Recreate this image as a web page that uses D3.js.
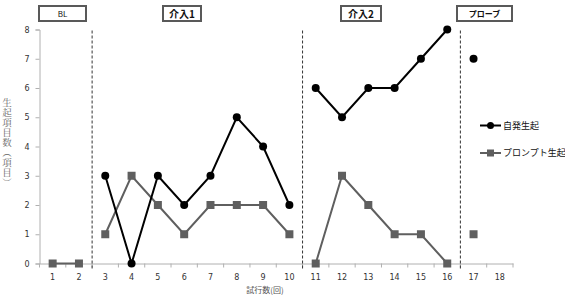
<!DOCTYPE html>
<html>
<head>
<meta charset="utf-8">
<script src="https://cdn.jsdelivr.net/npm/d3@7"></script>
<style>
  body { margin: 0; background: #fff; }
  svg { display: block; font-family: "Noto Sans CJK JP", "DejaVu Sans", sans-serif; }
</style>
</head>
<body>
<div id="chart"></div>
<script>
// data
const sessions = d3.range(1, 19);
const spontaneous = [null, null, 3, 0, 3, 2, 3, 5, 4, 2, 6, 5, 6, 6, 7, 8, 7, null];
const prompted = [0, 0, 1, 3, 2, 1, 2, 2, 2, 1, 0, 3, 2, 1, 1, 0, 1, null];
const phaseNames = ['BL', '介入1', '介入2', 'プローブ'];
const phaseStarts = [1, 3, 11, 17];
const phaseEnds = [2, 10, 16, 18];
const yTicks = d3.range(0, 9);
const legendNames = ['自発生起', 'プロンプト生起'];
const yTitle = '生起項目数（項目）';
const xTitle = '試行数(回)';

const width = 565, height = 297;
const margin = {top: 29.5, right: 52, bottom: 33.5, left: 39.5};

const svg = d3.select('#chart').append('svg')
  .attr('width', width)
  .attr('height', height);

const x = d3.scaleBand()
  .domain(sessions)
  .range([margin.left, width - margin.right]);
const y = d3.scaleLinear()
  .domain([0, 8])
  .range([height - margin.bottom, margin.top]);
const cx = d => x(d) + x.bandwidth() / 2;

// y axis
const yAxis = svg.append('g')
  .attr('transform', `translate(${margin.left},0)`)
  .call(d3.axisLeft(y).tickValues(yTicks).tickSize(4).tickPadding(6));
yAxis.select('.domain').attr('stroke', '#b0b0b0');
yAxis.selectAll('.tick line').attr('stroke', '#b0b0b0');
yAxis.selectAll('.tick text').attr('font-size', 8).attr('fill', '#333').attr('font-family', 'DejaVu Sans, sans-serif');

// x axis
const xAxis = svg.append('g')
  .attr('transform', `translate(0,${y(0)})`)
  .call(d3.axisBottom(x).tickSize(0).tickPadding(11));
xAxis.select('.domain').attr('stroke', '#b0b0b0');
xAxis.selectAll('.tick text').attr('font-size', 8).attr('fill', '#333').attr('font-family', 'DejaVu Sans, sans-serif');
// ticks between categories
svg.append('g').selectAll('line')
  .data(d3.range(0, sessions.length + 1))
  .join('line')
  .attr('x1', i => margin.left + i * x.step())
  .attr('x2', i => margin.left + i * x.step())
  .attr('y1', y(0))
  .attr('y2', y(0) + 4)
  .attr('stroke', '#b0b0b0');

// phase change lines
svg.append('g').selectAll('line')
  .data(phaseEnds.slice(0, 3))
  .join('line')
  .attr('x1', d => x(d) + x.bandwidth())
  .attr('x2', d => x(d) + x.bandwidth())
  .attr('y1', y(8) + 1)
  .attr('y2', y(0) + 6)
  .attr('stroke', '#333')
  .attr('stroke-width', 1)
  .attr('stroke-dasharray', '3,2');

// phase labels
const boxes = [
  {x0: 39, x1: 86, bold: false, size: 8},
  {x0: 163, x1: 201, bold: true, size: 10},
  {x0: 341, x1: 381, bold: true, size: 10},
  {x0: 457, x1: 512, bold: true, size: 8}
];
const lab = svg.append('g').selectAll('g')
  .data(phaseNames)
  .join('g');
lab.append('rect')
  .attr('x', (d, i) => boxes[i].x0)
  .attr('y', 6)
  .attr('width', (d, i) => boxes[i].x1 - boxes[i].x0)
  .attr('height', 15)
  .attr('fill', '#fff')
  .attr('stroke', '#595959')
  .attr('stroke-width', 2);
lab.append('text')
  .attr('x', (d, i) => (boxes[i].x0 + boxes[i].x1) / 2)
  .attr('y', 14)
  .attr('dy', '0.35em')
  .attr('text-anchor', 'middle')
  .attr('font-size', (d, i) => boxes[i].size)
  .attr('font-weight', (d, i) => boxes[i].bold ? 'bold' : 'normal')
  .attr('fill', '#111')
  .text(d => d);

// series lines by phase
const line = d3.line()
  .defined(d => d.v != null)
  .x(d => cx(d.s))
  .y(d => y(d.v));

function drawSeries(values, color, shape) {
  const pts = sessions.map((s, i) => ({s: s, v: values[i]}));
  const g = svg.append('g');
  phaseStarts.forEach((st, p) => {
    const seg = pts.filter(d => d.s >= st && d.s <= phaseEnds[p]);
    g.append('path')
      .datum(seg)
      .attr('fill', 'none')
      .attr('stroke', color)
      .attr('stroke-width', 2)
      .attr('d', line);
  });
  const valid = pts.filter(d => d.v != null);
  if (shape === 'circle') {
    g.selectAll('circle').data(valid).join('circle')
      .attr('cx', d => cx(d.s))
      .attr('cy', d => y(d.v))
      .attr('r', 4)
      .attr('fill', color);
  } else {
    g.selectAll('rect').data(valid).join('rect')
      .attr('x', d => cx(d.s) - 4)
      .attr('y', d => y(d.v) - 4)
      .attr('width', 8)
      .attr('height', 8)
      .attr('fill', color);
  }
}
drawSeries(prompted, '#5f5f5f', 'square');
drawSeries(spontaneous, '#000', 'circle');

// legend
const legend = svg.append('g');
const legendY = [125.5, 153];
const legendColors = ['#000', '#5f5f5f'];
legendNames.forEach((name, i) => {
  legend.append('line')
    .attr('x1', 480).attr('x2', 501)
    .attr('y1', legendY[i]).attr('y2', legendY[i])
    .attr('stroke', legendColors[i]).attr('stroke-width', 2);
  if (i === 0) {
    legend.append('circle').attr('cx', 490.5).attr('cy', legendY[i]).attr('r', 3.5).attr('fill', legendColors[i]);
  } else {
    legend.append('rect').attr('x', 487).attr('y', legendY[i] - 3.5).attr('width', 7).attr('height', 7).attr('fill', legendColors[i]);
  }
  legend.append('text')
    .attr('x', 503)
    .attr('y', legendY[i])
    .attr('dy', '0.35em')
    .attr('font-size', 9)
    .attr('fill', '#111')
    .text(name);
});

// axis titles
svg.append('text')
  .attr('x', 7)
  .attr('y', 143)
  .attr('text-anchor', 'middle')
  .attr('font-size', 9.5)
  .attr('fill', '#666')
  .attr('font-family', '"Noto Serif CJK JP", "Noto Sans CJK JP", serif')
  .style('writing-mode', 'vertical-rl')
  .style('letter-spacing', '0.5px')
  .text(yTitle);

svg.append('text')
  .attr('x', 265)
  .attr('y', 293)
  .attr('text-anchor', 'middle')
  .attr('font-size', 8)
  .attr('fill', '#555')
  .text(xTitle);
</script>
</body>
</html>
